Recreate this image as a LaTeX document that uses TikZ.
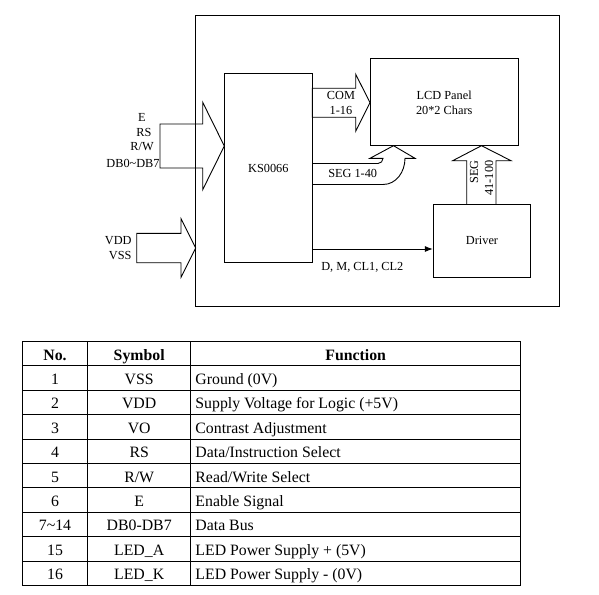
\documentclass[tikz,border=0pt]{standalone}
\usepackage{fontspec}
\setmainfont{Liberation Serif}
\usetikzlibrary{arrows.meta}
\tikzset{>={Latex[length=8pt,width=6pt]}}
\tikzset{
    blk/.style={draw,inner sep=0pt,align=center},
    lbl/.style={inner sep=0pt,align=center},
    cell/.style={inner sep=0pt,anchor=base},
}
% right pointing hollow arrow: tail x, head base x, tip x, mid y, half body, half head
\newcommand\fatarrow[6]{
    \draw (#1,#4-#5) -- (#2,#4-#5) -- (#2,#4-#6) -- (#3,#4)
        -- (#2,#4+#6) -- (#2,#4+#5) -- (#1,#4+#5) -- cycle;
}

\begin{document}
\begin{tikzpicture}[x=1pt,y=-1pt,line width=0.9pt,
    every node/.style={font=\fontsize{12.3}{15}\selectfont}]
        \useasboundingbox (0,0) rectangle (599,594);

        % module outline
        \draw (195,15) rectangle (559,306);

        \node[blk,minimum width=88pt,minimum height=189.4pt] (ks) at (268.3,168) {KS0066};
        \node[blk,minimum width=148.3pt,minimum height=86.7pt] (lcd) at (444.2,102.3) {LCD Panel\\20*2 Chars};
        \node[blk,minimum width=97.4pt,minimum height=73pt] (drv) at (482,240.8) {Driver};

        \fatarrow{160}{202.7}{224.3}{146}{22}{43.7}
        \fatarrow{136.7}{181}{195.7}{248}{14.7}{29.3}
        \fatarrow{312.3}{355.7}{370}{102.7}{14.5}{28.5}

        % SEG 1-40 bent arrow
        \draw (312.3,163.5) -- (378,163.5) to[out=0,in=-90] (383,158.3)
            -- (370,158.3) -- (393.5,145.7) -- (415,158.3) -- (405,158.3)
            to[out=-90,in=0] (383,184.5) -- (312.3,184.5);
        % SEG 41-100 up arrow
        \draw (466.7,204.3) -- (466.7,160.7) -- (452.7,160.7) -- (481.5,145.7)
            -- (511,160.7) -- (496,160.7) -- (496,204.3);

        \coordinate (dm) at (312.3,249);
        \draw[->] (dm) -- (dm -| drv.west);

        \node[lbl] (inE) at (142,117) {E};
        \node[lbl] (inRS) at (144,132) {RS};
        \node[lbl] (inRW) at (142,146.5) {R/W};
        \node[lbl] (inDB) at (133,163) {DB0\textasciitilde DB7};
        \node[lbl,align=right,anchor=east] (pwr) at (132,248.5) {VDD\\VSS};
        \node[lbl] (com) at (341,102.5) {COM\\1-16};
        \node[lbl] (seg1) at (352.7,173.5) {SEG 1-40};
        \node[lbl,align=right,rotate=90] (seg2) at (481.5,178) {SEG\\41-100};
        \node[lbl] (ctrl) at (362.3,267.3) {D, M, CL1, CL2};

        % pin table
        \foreach \i in {0,...,10}
            \draw (22.3,341.5+24.4*\i) -- (520.7,341.5+24.4*\i);
        \foreach \x in {22.3,87.7,190.7,520.7}
            \draw (\x,341.5) -- (\x,585.5);
        \begin{scope}[every node/.style={font=\fontsize{15.8}{18}\selectfont}]
            \node[cell] (hno) at (55,360) {\bfseries No.};
            \node[cell] (hsym) at (139.2,360) {\bfseries Symbol};
            \node[cell] (hfn) at (355.7,360) {\bfseries Function};
            \foreach \no/\sym/\fn [count=\i] in {1/VSS/{Ground (0V)},
                2/VDD/{Supply Voltage for Logic (+5V)},
                3/VO/{Contrast Adjustment},
                4/RS/{Data/Instruction Select},
                5/{R/W}/{Read/Write Select},
                6/E/{Enable Signal},
                7\textasciitilde 14/DB0-DB7/{Data Bus},
                15/LED\_A/{LED Power Supply + (5V)},
                16/LED\_K/{LED Power Supply - (0V)}} {
                \node[cell] (no\i) at (55,360+24.4*\i) {\no};
                \node[cell] (sym\i) at (139.2,360+24.4*\i) {\sym};
                \node[cell,anchor=base west] (fn\i) at (195,360+24.4*\i) {\fn};
            }
        \end{scope}
    \end{tikzpicture}
\end{document}
